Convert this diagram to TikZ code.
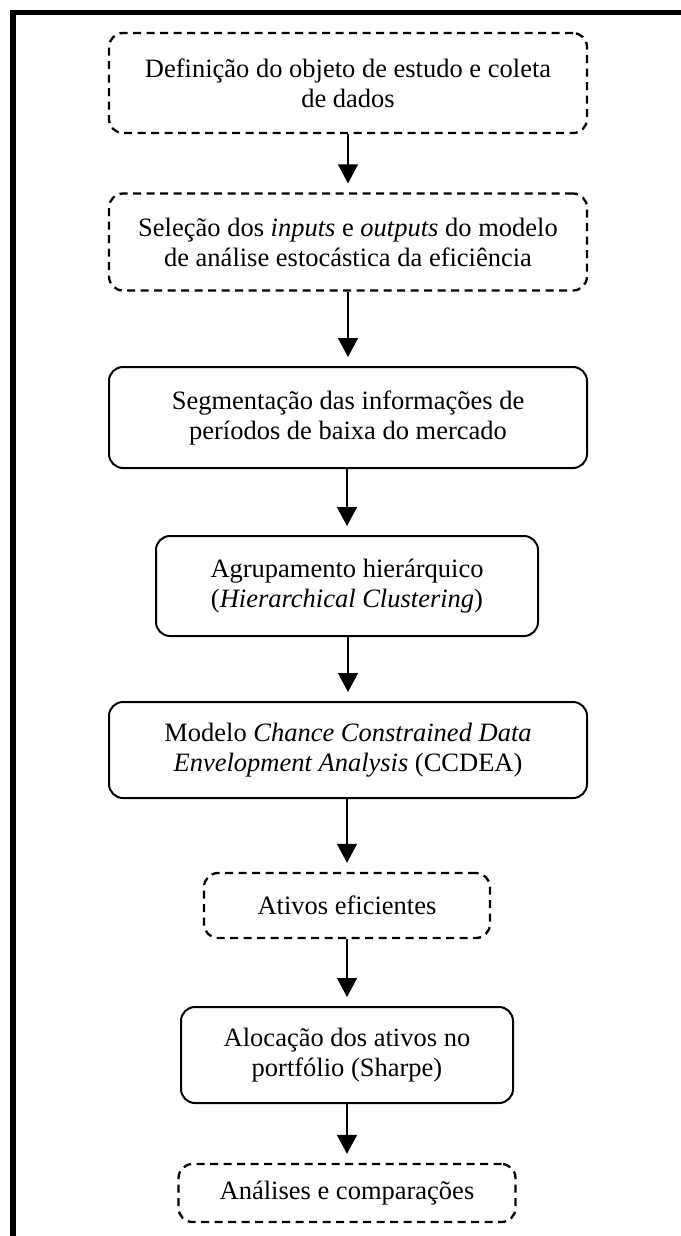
\documentclass[tikz,border=0pt]{standalone}
\usepackage{fontspec}
\setmainfont{Liberation Serif}
\usetikzlibrary{arrows.meta}
\begin{document}
\begin{tikzpicture}[x=1pt,y=-1pt,
  boxbase/.style={draw=black,line width=2pt,rounded corners=14pt,align=center,inner sep=0pt,
    font=\fontsize{26.5}{30}\selectfont},
  solidbox/.style={boxbase},
  dashbox/.style={boxbase,line width=2.3pt,dash pattern=on 8pt off 5.5pt},
  arr/.style={line width=1.3pt,-{Triangle[length=19pt,width=20pt]}}
]
\useasboundingbox (0,0) rectangle (680,1236);
% outer frame (cut at right and bottom)
\coordinate (fa) at (13,1240);
\coordinate (fb) at (13,12.5);
\coordinate (fc) at (684,12.5);
\draw[line width=5.5pt,line join=miter] (fa) -- (fb) -- (fc);

\node[dashbox,minimum width=478pt,minimum height=100pt] (n1) at (348,83)
  {Definição do objeto de estudo e coleta\\de dados};
\node[dashbox,minimum width=478pt,minimum height=97pt] (n2) at (348,242)
  {Seleção dos \textit{inputs} e \textit{outputs} do modelo\\de análise estocástica da eficiência};
\node[solidbox,minimum width=478pt,minimum height=101pt] (n3) at (348,417.5)
  {Segmentação das informações de\\períodos de baixa do mercado};
\node[solidbox,minimum width=382pt,minimum height=100pt] (n4) at (347,586)
  {Agrupamento hierárquico\\(\textit{Hierarchical Clustering})};
\node[solidbox,minimum width=478pt,minimum height=96pt] (n5) at (348,750)
  {Modelo \textit{Chance Constrained Data}\\\textit{Envelopment Analysis} (CCDEA)};
\node[dashbox,minimum width=286pt,minimum height=65pt] (n6) at (347,905.5)
  {Ativos eficientes};
\node[solidbox,minimum width=332pt,minimum height=96pt] (n7) at (347,1055)
  {Alocação dos ativos no\\portfólio (Sharpe)};
\node[dashbox,minimum width=337pt,minimum height=58pt] (n8) at (347,1193)
  {Análises e comparações};

\foreach \a/\b in {n1/n2,n2/n3,n3/n4,n4/n5,n5/n6,n6/n7,n7/n8}{
  \draw[arr] (\b.north |- \a.south) -- ([yshift=9pt]\b.north);
}
\end{tikzpicture}
\end{document}
